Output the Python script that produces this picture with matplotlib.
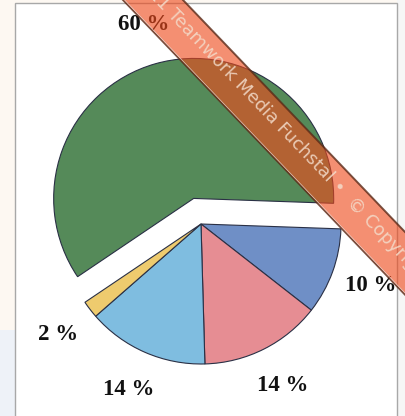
import numpy as np
import matplotlib
matplotlib.use("Agg")
import matplotlib.pyplot as plt
from matplotlib.patches import Polygon, Rectangle

# ---- data ----
labels = ["10 %", "14 %", "14 %", "2 %", "60 %"]
values = [10, 14, 14, 2, 60]
colors = ["#6f8fc6", "#e68d93", "#7fbde0", "#eecb6e", "#558a59"]
explode_frac = [0, 0, 0, 0, 0.19]
watermark_left = "© 2011 Teamwork Media Fuchstal •"
watermark_right = "© Copyright"

W, H = 406, 416
R = 140
fig = plt.figure(figsize=(W / 100, H / 100), dpi=100)
fig.patch.set_facecolor("#fdf8f2")
ax = fig.add_axes([0, 0, 1, 1])
ax.set_axis_off()

def Y(y):  # image y (top-down) -> data y
    return H - y

# background pieces
ax.add_patch(Rectangle((0, 0), 15, Y(330), facecolor="#eef2f8", edgecolor="none", zorder=0))
ax.add_patch(Rectangle((397, 0), 9, H, facecolor="#f6f6f6", edgecolor="none", zorder=0))
ax.add_patch(Rectangle((15, -5), 382, Y(3) + 5, facecolor="white", edgecolor="#a8a8a8",
                       linewidth=1.0, zorder=0.5))

wedges, texts = ax.pie(values, labels=labels, colors=colors,
                       explode=[e * R for e in explode_frac],
                       startangle=-2, counterclock=False, radius=R,
                       center=(201, Y(224)), labeldistance=1.29,
                       wedgeprops=dict(edgecolor="#2a3045", linewidth=0.8),
                       textprops=dict(fontsize=16.5, fontweight="bold",
                                      family="Liberation Serif", color="#111111"))
for t in texts:
    t.set_horizontalalignment("center")
    t.set_verticalalignment("center")
    t.set_zorder(3)

ax.set_xlim(0, W)
ax.set_ylim(0, H)
ax.set_aspect("equal")

# watermark band
s = 1.045
def up(x):   # upper-right edge
    return s * (x - 183)
def lo(x):   # lower-left edge
    return s * (x - 123)
x0, x1 = 100, 450
band = Polygon([(x0, Y(up(x0))), (x1, Y(up(x1))), (x1, Y(lo(x1))), (x0, Y(lo(x0)))],
               closed=True, facecolor="#ee4a1c", alpha=0.62, edgecolor="none", zorder=4)
ax.add_patch(band)
ax.plot([x0, x1], [Y(up(x0)), Y(up(x1))], color="#5a2a18", lw=1.4, alpha=0.8, zorder=4.5)
ax.plot([x0, x1], [Y(lo(x0)), Y(lo(x1))], color="#5a2a18", lw=1.4, alpha=0.8, zorder=4.5)
ax.plot([x0 + 1.5, x1 + 1.5], [Y(lo(x0)), Y(lo(x1))], color="white", lw=0.5, alpha=0.7, zorder=4.6)

ang = -np.degrees(np.arctan(s))
bx, by = 342, 191
ax.text(bx, Y(by), watermark_left, rotation=ang, rotation_mode="anchor",
        ha="right", va="center", fontsize=13, family="DejaVu Sans",
        color="#f3dccb", alpha=0.85, zorder=5)
ax.text(bx + 8, Y(by + 8.5), watermark_right, rotation=ang, rotation_mode="anchor",
        ha="left", va="center", fontsize=13, family="DejaVu Sans",
        color="#f3dccb", alpha=0.85, zorder=5)

fig.savefig("out.png", dpi=100)
